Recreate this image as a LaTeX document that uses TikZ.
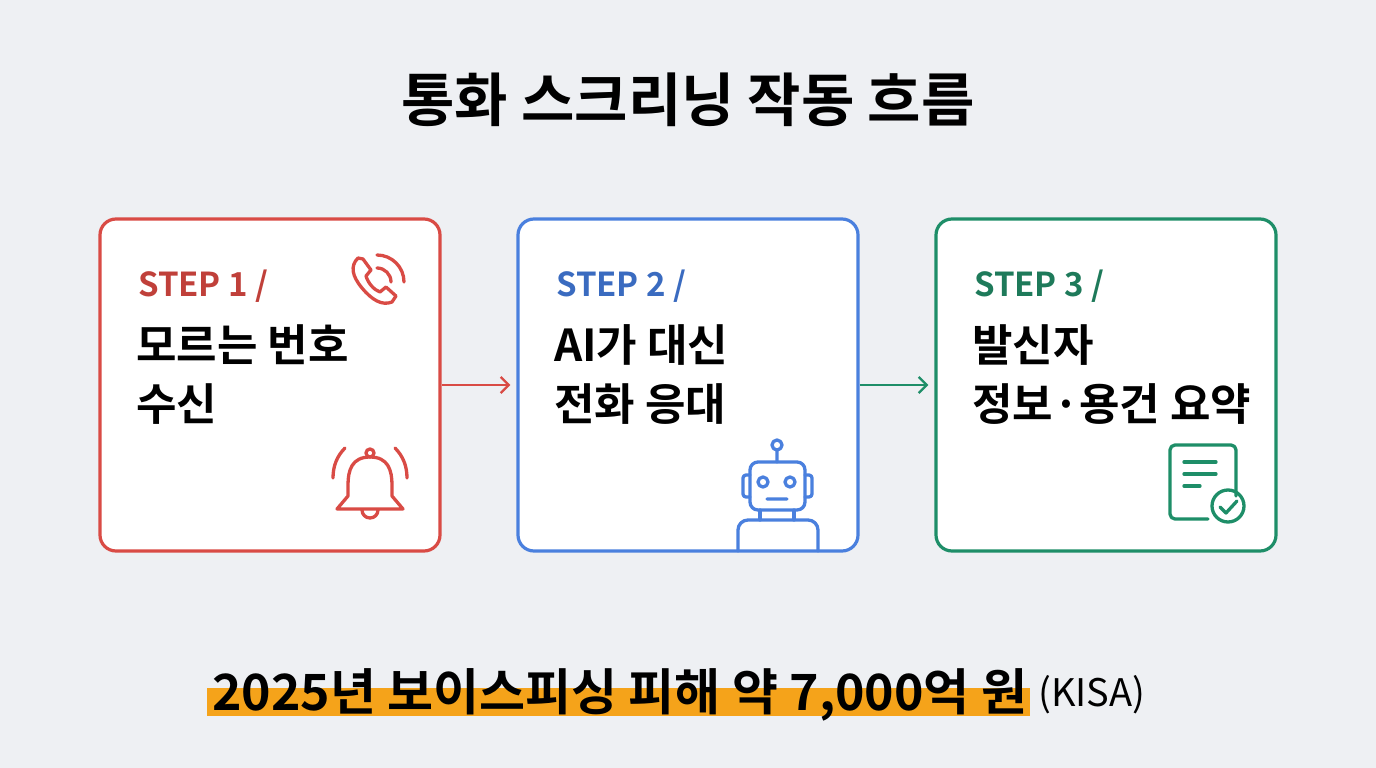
\documentclass[tikz,border=0pt]{standalone}
\usepackage{fontspec}
\setmainfont{Noto Sans CJK KR}[BoldFont={Noto Sans CJK KR Bold}]
\usetikzlibrary{arrows.meta}
\definecolor{bg}{HTML}{EEF0F3}
\definecolor{cred}{HTML}{D94B45}
\definecolor{cblue}{HTML}{4A80DE}
\definecolor{cgreen}{HTML}{1E8E68}
\definecolor{tred}{HTML}{C0403A}
\definecolor{tblue}{HTML}{3A6BC0}
\definecolor{tgreen}{HTML}{1E7A5A}
\definecolor{hl}{HTML}{F5A31A}
\tikzset{card/.style={draw=#1,line width=3.2pt,fill=white,rounded corners=16pt,minimum width=340pt,minimum height=332pt,inner sep=0pt},
 steplbl/.style={anchor=base west,inner sep=0pt,font=\bfseries\fontsize{33}{36}\selectfont,text=#1},
 maintxt/.style={anchor=base west,inner sep=0pt,font=\bfseries\fontsize{44}{48}\selectfont},
 icon/.style={draw=#1,line width=3.3pt,line cap=round,line join=round},
 conn/.style={draw=#1,line width=2.4pt,-{Straight Barb[length=8pt,width=16pt]}}}
\begin{document}
\begin{tikzpicture}[x=1pt,y=-1pt]
\fill[bg] (0,0) rectangle (1376,768);
\useasboundingbox (0,0) rectangle (1376,768);
\node (title) at (688,100) {\bfseries\fontsize{58}{62}\selectfont 통화 스크리닝 작동 흐름};
\node[card=cred] (b1) at (270,385) {};
\node[card=cblue] (b2) at (688,385) {};
\node[card=cgreen] (b3) at (1106,385) {};
\draw[conn=cred] (b1.east) -- ([xshift=-6pt]b2.west);
\draw[conn=cgreen] (b2.east) -- ([xshift=-6pt]b3.west);
\node[steplbl=tred] (s1) at (138,296) {STEP 1 /};
\node[steplbl=tblue] (s2) at (556,296) {STEP 2 /};
\node[steplbl=tgreen] (s3) at (974,296) {STEP 3 /};
\node[maintxt] (m1a) at (136,361) {모르는 번호};
\node[maintxt] (m1b) at (136,420) {수신};
\node[maintxt] (m2a) at (554,361) {AI가 대신};
\node[maintxt] (m2b) at (554,420) {전화 응대};
\node[maintxt] (m3a) at (972,361) {발신자};
\node[maintxt] (m3b) at (972,420) {정보·용건 요약};
% phone
\draw[icon=cred] (358,258) .. controls (350,266) and (352,276) .. (362,288) .. controls (372,300) and (382,306) .. (392,302) -- (396,296) -- (386,287) -- (380,292) .. controls (374,290) and (368,283) .. (366,276) -- (371,270) -- (363,259) -- cycle;
\draw[icon=cred] (377,268) arc[start angle=-90,end angle=0,radius=14];
\draw[icon=cred] (377,255) arc[start angle=-90,end angle=0,radius=27];
% bell
\draw[icon=cred] (370,453) circle[radius=4];
\draw[icon=cred] (370,457) .. controls (352,457) and (348,470) .. (348,485) -- (348,496) -- (337,509) -- (403,509) -- (392,496) -- (392,485) .. controls (392,470) and (388,457) .. (370,457);
\draw[icon=cred] (362,510) arc[start angle=180,end angle=0,radius=8];
\draw[icon=cred] (345,448) .. controls (337,456) and (333,466) .. (333,478);
\draw[icon=cred] (395,448) .. controls (403,456) and (407,466) .. (407,478);
% robot
\draw[icon=cblue] (777,445) circle[radius=5] (777,450) -- (777,462);
\draw[icon=cblue,rounded corners=8pt] (750,462) rectangle (805,510);
\draw[icon=cblue,rounded corners=3pt] (750,475) -- (743,475) -- (743,497) -- (750,497) (805,475) -- (812,475) -- (812,497) -- (805,497);
\draw[icon=cblue] (763,482) circle[radius=5] (790,482) circle[radius=5] (767,499) -- (787,499);
\draw[icon=cblue] (760,510) -- (760,520) (794,510) -- (794,520);
\draw[icon=cblue,rounded corners=10pt] (738,551) -- (738,520) -- (818,520) -- (818,551);
% document
\draw[icon=cgreen,rounded corners=5pt] (1236,496) -- (1236,445) -- (1170,445) -- (1170,519) -- (1208,519);
\draw[icon=cgreen] (1184,462) -- (1216,462) (1184,474) -- (1216,474) (1184,486) -- (1200,486);
\draw[icon=cgreen] (1228,506) circle[radius=16];
\draw[icon=cgreen] (1220,507) -- (1226,513) -- (1237,501);
% bottom
\fill[hl] (207,688) rectangle (1030,716);
\node[anchor=base west,inner sep=0pt] (stat) at (212,710) {\bfseries\fontsize{50}{54}\selectfont 2025년 보이스피싱 피해 약 7,000억 원};
\node[anchor=base west,inner sep=0pt] (src) at (1038,706) {\fontsize{38}{40}\selectfont (KISA)};
\end{tikzpicture}
\end{document}
